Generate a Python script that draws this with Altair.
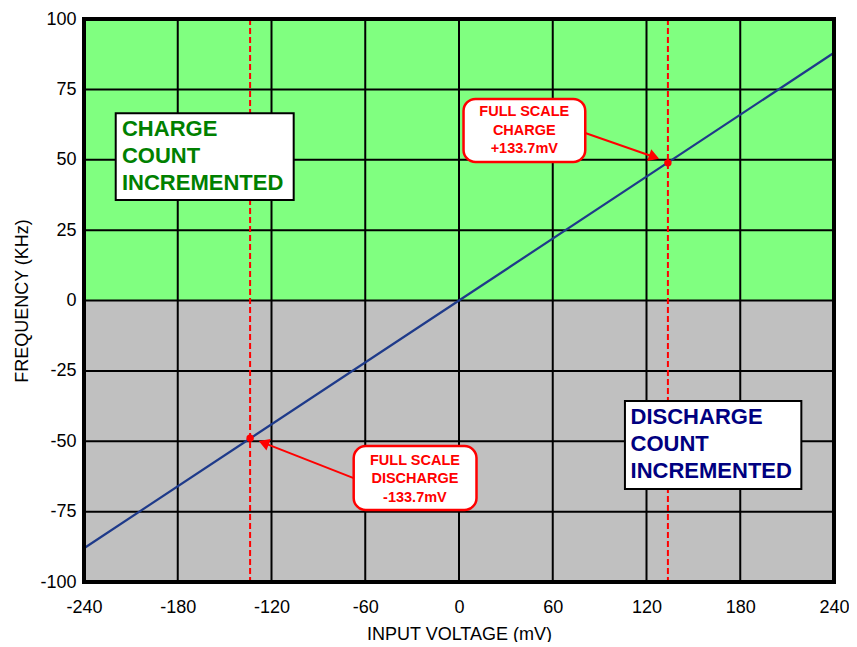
import altair as alt
import pandas as pd

# ---- data ----
x_ticks = [-240, -180, -120, -60, 0, 60, 120, 180, 240]
y_ticks = [-100, -75, -50, -25, 0, 25, 50, 75, 100]

line_mv = [-240, 0, 240]
line_khz = [-88, 0, 88]

fs_mv = [-133.7, 133.7]
fs_khz = [-48.9, 48.9]

region_x = [-240, -240]
region_x2 = [240, 240]
region_y = [0, -100]
region_y2 = [100, 0]
region_color = ["#80FF80", "#C0C0C0"]

box_labels = ["CHARGE\nCOUNT\nINCREMENTED", "DISCHARGE\nCOUNT\nINCREMENTED"]
box_x = [-219.7, 106.2]
box_x2 = [-105.8, 219.1]
box_y = [66.5, -35.7]
box_y2 = [35.7, -67.0]
box_text_x = [-215.7, 109.8]
box_text_y = [61.0, -41.5]
box_text_color = ["#008000", "#000080"]

call_labels = ["FULL SCALE\nCHARGE\n+133.7mV", "FULL SCALE\nDISCHARGE\n-133.7mV"]
call_x = [2.9, -67.4]
call_x2 = [80.8, 11.2]
call_y = [71.6, -51.7]
call_y2 = [49.2, -74.4]
call_text_x = [41.8, -28.2]
call_text_y = [66.8, -56.9]

arrow_id = [0, 0, 1, 1]
arrow_order = [0, 1, 0, 1]
arrow_x = [80.8, 124.9, -67.4, -125.0]
arrow_y = [59.5, 51.0, -63.1, -50.6]
head_x = [124.9, -125.0]
head_y = [51.0, -50.6]
head_angle = [20, 201]

FONT = "Liberation Sans"
XS = alt.Scale(domain=[-240, 240], nice=False, zero=False)
YS = alt.Scale(domain=[-100, 100], nice=False, zero=False)

AX = alt.Axis(values=x_ticks, title="INPUT VOLTAGE (mV)", grid=False, ticks=False,
              domain=False, labelFont=FONT, labelFontSize=18, labelColor="black",
              labelExpr="datum.value + ''",
              labelPadding=16, titleFont=FONT, titleFontSize=18, titleFontWeight="normal",
              titleColor="black", titlePadding=9, labelFlush=False)
AY = alt.Axis(values=y_ticks, title="FREQUENCY (KHz)", grid=False, ticks=False,
              domain=False, labelFont=FONT, labelFontSize=18, labelColor="black",
              labelExpr="datum.value + ''",
              labelPadding=8, titleFont=FONT, titleFontSize=18, titleFontWeight="normal",
              titleColor="black", titlePadding=8, labelFlush=False)


def X(f):
    return alt.X(f, scale=XS, axis=AX)


def Y(f):
    return alt.Y(f, scale=YS, axis=AY)


bg_df = pd.DataFrame({"x": region_x, "x2": region_x2, "y": region_y, "y2": region_y2, "c": region_color})
bg = alt.Chart(bg_df).mark_rect().encode(
    x=X("x:Q"), x2="x2:Q", y=Y("y:Q"), y2="y2:Q",
    fill=alt.Fill("c:N", scale=None),
)

vgrid = alt.Chart(pd.DataFrame({"x": x_ticks[1:-1]})).mark_rule(color="black", strokeWidth=2).encode(
    x=X("x:Q"))
hgrid = alt.Chart(pd.DataFrame({"y": y_ticks[1:-1]})).mark_rule(color="black", strokeWidth=2).encode(
    y=Y("y:Q"))

dash = alt.Chart(pd.DataFrame({"x": fs_mv})).mark_rule(color="#FF0000", strokeWidth=2, strokeDash=[6, 3]).encode(
    x=X("x:Q"))

line = alt.Chart(pd.DataFrame({"x": line_mv, "y": line_khz})).mark_line(color="#1E3A8A", strokeWidth=2.2).encode(
    x=X("x:Q"), y=Y("y:Q"))

frame = alt.Chart(pd.DataFrame({"x": [-240], "x2": [240], "y": [-100], "y2": [100]})).mark_rect(
    fillOpacity=0, stroke="black", strokeWidth=4).encode(
    x=X("x:Q"), x2="x2:Q", y=Y("y:Q"), y2="y2:Q")

box_df = pd.DataFrame({"x": box_x, "x2": box_x2, "y": box_y, "y2": box_y2,
                       "tx": box_text_x, "ty": box_text_y, "label": box_labels, "c": box_text_color})
boxes = alt.Chart(box_df).mark_rect(fill="white", stroke="black", strokeWidth=2).encode(
    x=X("x:Q"), x2="x2:Q", y=Y("y:Q"), y2="y2:Q")
box_text = alt.Chart(box_df).mark_text(lineBreak="\n", align="left", baseline="middle", font=FONT,
                                        fontWeight="bold", fontSize=22, lineHeight=27).encode(
    x=X("tx:Q"), y=Y("ty:Q"), text="label:N", color=alt.Color("c:N", scale=None))

arrow_df = pd.DataFrame({"x": arrow_x, "y": arrow_y, "id": arrow_id, "o": arrow_order})
arrows = alt.Chart(arrow_df).mark_line(color="#FF0000", strokeWidth=2).encode(
    x=X("x:Q"), y=Y("y:Q"), detail="id:N", order="o:Q")
heads = alt.Chart(pd.DataFrame({"x": head_x, "y": head_y, "a": head_angle})).mark_point(
    shape="triangle-right", filled=True, color="#FF0000", opacity=1, size=150).encode(
    x=X("x:Q"), y=Y("y:Q"), angle=alt.Angle("a:Q", scale=None))

call_df = pd.DataFrame({"x": call_x, "x2": call_x2, "y": call_y, "y2": call_y2,
                        "tx": call_text_x, "ty": call_text_y, "label": call_labels})
calls = alt.Chart(call_df).mark_rect(fill="white", stroke="#FF0000", strokeWidth=2.5, cornerRadius=12).encode(
    x=X("x:Q"), x2="x2:Q", y=Y("y:Q"), y2="y2:Q")
call_text = alt.Chart(call_df).mark_text(lineBreak="\n", align="center", baseline="middle", font=FONT,
                                          fontWeight="bold", fontSize=14.5, lineHeight=18.5, color="#FF0000").encode(
    x=X("tx:Q"), y=Y("ty:Q"), text="label:N")

points = alt.Chart(pd.DataFrame({"x": fs_mv, "y": fs_khz})).mark_point(
    shape="circle", filled=True, color="#FF0000", opacity=1, size=55).encode(
    x=X("x:Q"), y=Y("y:Q"))

chart = alt.layer(bg, vgrid, hgrid, dash, line, frame, boxes, box_text, arrows, heads, calls, call_text, points
                  ).properties(
    width=750, height=563,
    autosize=alt.AutoSizeParams(type="none"),
    padding={"left": 76, "top": 11, "right": 15, "bottom": 60},
    background="white",
).configure_view(stroke=None)

chart.save("out.html", embed_options={"renderer": "svg", "actions": False})
